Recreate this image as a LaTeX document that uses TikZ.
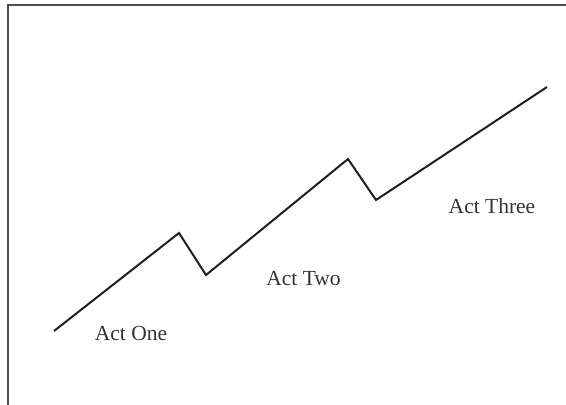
\documentclass[tikz,border=0pt]{standalone}
\usepackage{fontspec}
\setmainfont{Liberation Serif}
\begin{document}
\begin{tikzpicture}[x=1pt,y=-1pt,
  framestyle/.style={draw=black!70,line width=2.6pt},
  plotline/.style={draw=black!88,line width=2pt,line join=miter},
  actlabel/.style={anchor=base,inner sep=0pt,font=\fontsize{21.5}{24}\selectfont,text=black!80}]
\useasboundingbox (0,0) rectangle (566,405);
\coordinate (fa) at (8,405);
\coordinate (fb) at (8,5);
\coordinate (fc) at (566,5);
\draw[framestyle] (fa) -- (fb) -- (fc);
\coordinate (p0) at (54,331);
\coordinate (p1) at (179,233);
\coordinate (p2) at (206,275);
\coordinate (p3) at (348,159);
\coordinate (p4) at (376,200);
\coordinate (p5) at (547,87);
\draw[plotline] (p0) -- (p1) -- (p2) -- (p3) -- (p4) -- (p5);
\node[actlabel] (one) at (131,340) {Act One};
\node[actlabel] (two) at (303.5,285) {Act Two};
\node[actlabel] (three) at (492,213) {Act Three};
\end{tikzpicture}
\end{document}
